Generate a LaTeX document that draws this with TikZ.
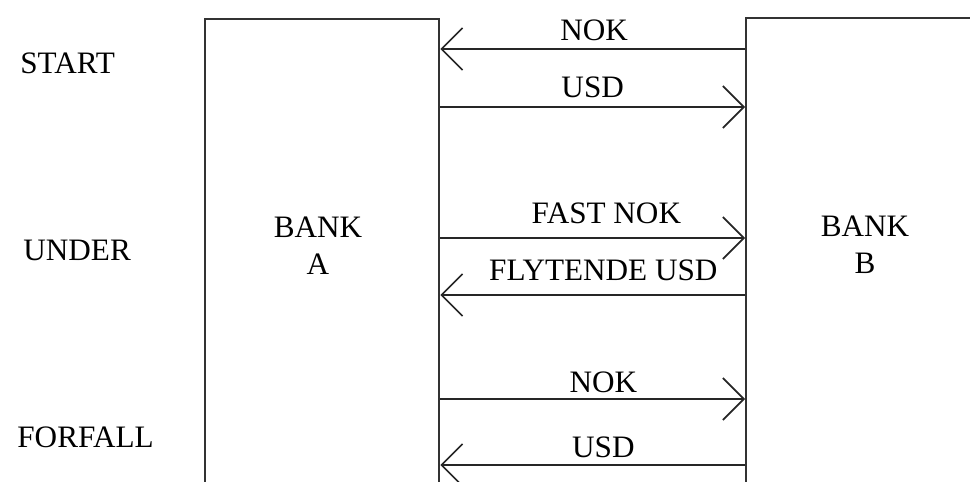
\documentclass[tikz,border=0pt]{standalone}
\usepackage{fontspec}
\setmainfont{Liberation Serif}
\usetikzlibrary{arrows.meta}

\tikzset{
  box/.style={draw=black!80,line width=1.2pt,rectangle,inner sep=0pt},
  flow/.style={draw=black!85,line width=1.2pt,-{Straight Barb[length=10.5pt,width=21pt,line width=0.8pt]}},
  lbl/.style={inner sep=0pt,font=\fontsize{15.6}{18.5}\selectfont,text=black}
}

\begin{document}
\begin{tikzpicture}[x=0.5pt,y=-0.5pt]
  \useasboundingbox (0,0) rectangle (970,482);
  \clip (0,0) rectangle (970,482);
  \node[box,minimum width=117pt,minimum height=240pt,anchor=north west] (bankA) at (204,18) {};
  \node[box,minimum width=150pt,minimum height=240pt,anchor=north west] (bankB) at (745,17) {};
  \node[lbl,align=center] (txtA) at (318,246) {BANK\\A};
  \node[lbl,align=center] (txtB) at (865,245) {BANK\\B};
  \node[lbl,anchor=base west] (start) at (20,73) {START};
  \node[lbl,anchor=base west] (under) at (23,260) {UNDER};
  \node[lbl,anchor=base west] (forfall) at (17,447) {FORFALL};
  \draw[flow] (bankB.west |- 0,49) -- (bankA.east |- 0,49)
    node[lbl,pos=0.495,above=3.5pt] (nok1) {NOK};
  \draw[flow] (bankA.east |- 0,107) -- (bankB.west |- 0,107)
    node[lbl,pos=0.5,above=4pt] (usd1) {USD};
  \draw[flow] (bankA.east |- 0,238) -- (bankB.west |- 0,238)
    node[lbl,pos=0.545,above=6.5pt] (fast) {FAST NOK};
  \draw[flow] (bankB.west |- 0,295) -- (bankA.east |- 0,295)
    node[lbl,pos=0.465,above=6.5pt] (flyt) {FLYTENDE USD};
  \draw[flow] (bankA.east |- 0,399) -- (bankB.west |- 0,399)
    node[lbl,pos=0.535,above=2.5pt] (nok2) {NOK};
  \draw[flow] (bankB.west |- 0,465) -- (bankA.east |- 0,465)
    node[lbl,pos=0.465,above=3pt] (usd2) {USD};
\end{tikzpicture}
\end{document}
